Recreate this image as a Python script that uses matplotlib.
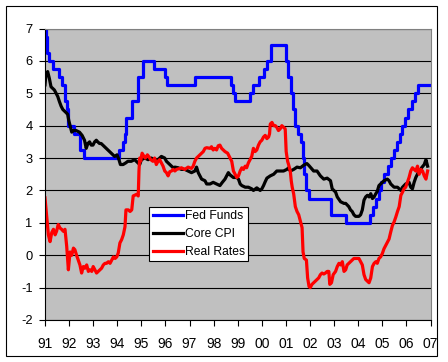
import matplotlib
matplotlib.use("Agg")
import matplotlib.pyplot as plt
from matplotlib.patches import Rectangle

plt.rcParams['font.family'] = ['Liberation Sans', 'DejaVu Sans']
plt.rcParams['axes.unicode_minus'] = False

# Fed funds target: (year, rate) at each change
fed_years = [1991.00, 1991.03, 1991.09, 1991.18, 1991.33, 1991.60, 1991.70, 1991.83,
             1991.85, 1991.93, 1991.97, 1992.20, 1992.45, 1992.62, 1994.09, 1994.22,
             1994.30, 1994.38, 1994.63, 1994.87, 1995.08, 1995.51, 1995.97, 1996.08,
             1997.23, 1998.74, 1998.79, 1998.88, 1999.49, 1999.65, 1999.87, 2000.09,
             2000.22, 2000.37, 2001.01, 2001.08, 2001.21, 2001.29, 2001.37, 2001.49,
             2001.64, 2001.71, 2001.75, 2001.85, 2001.94, 2002.85, 2003.48, 2004.50,
             2004.61, 2004.72, 2004.86, 2004.95, 2005.09, 2005.22, 2005.34, 2005.50,
             2005.60, 2005.72, 2005.83, 2005.95, 2006.08, 2006.24, 2006.36, 2006.49,
             2006.98]
fed_rates = [7.0, 6.75, 6.25, 6.0, 5.75, 5.5, 5.25, 5.0,
             4.75, 4.5, 4.0, 3.75, 3.25, 3.0, 3.25, 3.5,
             3.75, 4.25, 4.75, 5.5, 6.0, 5.75, 5.5, 5.25,
             5.5, 5.25, 5.0, 4.75, 5.0, 5.25, 5.5, 5.75,
             6.0, 6.5, 6.0, 5.5, 5.0, 4.5, 4.0, 3.75,
             3.5, 3.0, 2.5, 2.0, 1.75, 1.25, 1.0, 1.25,
             1.5, 1.75, 2.0, 2.25, 2.5, 2.75, 3.0, 3.25,
             3.5, 3.75, 4.0, 4.25, 4.5, 4.75, 5.0, 5.25,
             5.25]

core_years = [1991.00, 1991.04, 1991.11, 1991.18, 1991.25, 1991.32, 1991.39, 1991.46,
              1991.53, 1991.60, 1991.67, 1991.74, 1991.81, 1991.88, 1991.94, 1991.99,
              1992.04, 1992.11, 1992.19, 1992.29, 1992.43, 1992.54, 1992.64, 1992.71,
              1992.78, 1992.85, 1992.92, 1992.99, 1993.06, 1993.13, 1993.19, 1993.26,
              1993.33, 1993.47, 1993.54, 1993.61, 1993.68, 1993.75, 1993.89, 1993.99,
              1994.07, 1994.13, 1994.24, 1994.35, 1994.44, 1994.58, 1994.72, 1994.93,
              1995.00, 1995.14, 1995.28, 1995.41, 1995.55, 1995.69, 1995.83, 1995.97,
              1996.04, 1996.11, 1996.25, 1996.32, 1996.39, 1996.53, 1996.66, 1996.80,
              1996.94, 1997.08, 1997.22, 1997.29, 1997.36, 1997.43, 1997.50, 1997.64,
              1997.71, 1997.85, 1997.98, 1998.12, 1998.26, 1998.36, 1998.47, 1998.61,
              1998.68, 1998.82, 1998.96, 1999.03, 1999.10, 1999.17, 1999.31, 1999.44,
              1999.58, 1999.65, 1999.79, 1999.93, 2000.00, 2000.07, 2000.14, 2000.21,
              2000.35, 2000.49, 2000.62, 2000.76, 2000.90, 2001.04, 2001.11, 2001.18,
              2001.32, 2001.46, 2001.60, 2001.74, 2001.87, 2001.94, 2002.01, 2002.15,
              2002.29, 2002.43, 2002.57, 2002.71, 2002.85, 2002.92, 2003.06, 2003.13,
              2003.27, 2003.41, 2003.48, 2003.61, 2003.68, 2003.75, 2003.82, 2003.89,
              2004.03, 2004.10, 2004.17, 2004.24, 2004.31, 2004.38, 2004.45, 2004.52,
              2004.59, 2004.66, 2004.73, 2004.79, 2004.86, 2004.93, 2005.07, 2005.21,
              2005.28, 2005.35, 2005.49, 2005.63, 2005.70, 2005.77, 2005.84, 2005.97,
              2006.11, 2006.18, 2006.25, 2006.32, 2006.39, 2006.49, 2006.57, 2006.63,
              2006.74, 2006.81, 2006.88]
core_cpi = [5.26, 5.6, 5.67, 5.46, 5.2, 5.15, 5.1, 5.0,
            4.9, 4.74, 4.6, 4.5, 4.45, 4.4, 4.35, 4.15,
            4.0, 3.8, 3.85, 3.85, 3.8, 3.7, 3.55, 3.3,
            3.45, 3.5, 3.4, 3.4, 3.5, 3.55, 3.5, 3.45,
            3.45, 3.35, 3.3, 3.25, 3.2, 3.15, 3.05, 3.1,
            2.95, 2.8, 2.8, 2.85, 2.9, 2.9, 2.95, 2.8,
            2.95, 3.0, 2.95, 3.0, 2.95, 2.95, 3.05, 3.0,
            2.9, 2.85, 2.75, 2.7, 2.72, 2.7, 2.65, 2.65,
            2.6, 2.55, 2.6, 2.72, 2.55, 2.45, 2.35, 2.3,
            2.2, 2.2, 2.25, 2.2, 2.15, 2.25, 2.35, 2.55,
            2.48, 2.4, 2.4, 2.35, 2.2, 2.15, 2.1, 2.1,
            2.05, 2.0, 2.08, 2.0, 2.05, 2.15, 2.27, 2.38,
            2.45, 2.5, 2.6, 2.6, 2.6, 2.65, 2.7, 2.6,
            2.65, 2.72, 2.7, 2.78, 2.83, 2.78, 2.72, 2.6,
            2.6, 2.45, 2.35, 2.38, 2.3, 2.05, 1.95, 1.8,
            1.65, 1.6, 1.6, 1.5, 1.4, 1.35, 1.25, 1.2,
            1.2, 1.25, 1.4, 1.7, 1.8, 1.85, 1.8, 1.9,
            1.75, 1.8, 1.9, 1.97, 2.15, 2.2, 2.3, 2.35,
            2.3, 2.2, 2.1, 2.1, 2.05, 2.0, 2.1, 2.2,
            2.25, 2.1, 2.05, 2.25, 2.4, 2.55, 2.6, 2.7,
            2.8, 2.95, 2.75]

real_years = [1991.00, 1991.07, 1991.14, 1991.21, 1991.28, 1991.35, 1991.42, 1991.48,
              1991.55, 1991.62, 1991.69, 1991.76, 1991.83, 1991.90, 1991.97, 1992.04,
              1992.11, 1992.18, 1992.24, 1992.31, 1992.38, 1992.45, 1992.52, 1992.59,
              1992.66, 1992.73, 1992.80, 1992.87, 1992.94, 1993.00, 1993.07, 1993.14,
              1993.21, 1993.28, 1993.35, 1993.42, 1993.49, 1993.56, 1993.63, 1993.70,
              1993.77, 1993.84, 1993.91, 1993.98, 1994.04, 1994.11, 1994.18, 1994.25,
              1994.32, 1994.36, 1994.46, 1994.53, 1994.60, 1994.66, 1994.80, 1994.87,
              1994.90, 1994.93, 1994.97, 1995.03, 1995.11, 1995.16, 1995.25, 1995.30,
              1995.39, 1995.48, 1995.55, 1995.62, 1995.69, 1995.76, 1995.83, 1995.90,
              1995.97, 1996.04, 1996.11, 1996.18, 1996.25, 1996.32, 1996.39, 1996.46,
              1996.60, 1996.66, 1996.80, 1996.94, 1997.08, 1997.15, 1997.22, 1997.29,
              1997.36, 1997.43, 1997.50, 1997.57, 1997.64, 1997.71, 1997.85, 1997.91,
              1997.98, 1998.05, 1998.12, 1998.19, 1998.26, 1998.33, 1998.40, 1998.47,
              1998.58, 1998.68, 1998.75, 1998.82, 1998.89, 1998.96, 1999.03, 1999.10,
              1999.17, 1999.24, 1999.31, 1999.37, 1999.44, 1999.51, 1999.58, 1999.65,
              1999.72, 1999.79, 1999.86, 1999.93, 2000.00, 2000.07, 2000.14, 2000.21,
              2000.28, 2000.32, 2000.35, 2000.42, 2000.49, 2000.56, 2000.62, 2000.69,
              2000.76, 2000.83, 2000.90, 2000.97, 2001.01, 2001.07, 2001.11, 2001.18,
              2001.22, 2001.26, 2001.32, 2001.39, 2001.46, 2001.53, 2001.60, 2001.67,
              2001.71, 2001.76, 2001.85, 2001.90, 2001.96, 2002.01, 2002.08, 2002.15,
              2002.22, 2002.29, 2002.36, 2002.43, 2002.50, 2002.57, 2002.64, 2002.71,
              2002.78, 2002.82, 2002.89, 2002.96, 2003.06, 2003.13, 2003.20, 2003.27,
              2003.34, 2003.41, 2003.48, 2003.54, 2003.61, 2003.68, 2003.75, 2003.82,
              2004.03, 2004.10, 2004.17, 2004.24, 2004.31, 2004.38, 2004.45, 2004.52,
              2004.59, 2004.66, 2004.73, 2004.79, 2004.86, 2004.93, 2005.00, 2005.07,
              2005.14, 2005.21, 2005.28, 2005.35, 2005.42, 2005.49, 2005.56, 2005.63,
              2005.70, 2005.77, 2005.84, 2005.90, 2005.97, 2006.04, 2006.11, 2006.18,
              2006.25, 2006.32, 2006.39, 2006.46, 2006.53, 2006.60, 2006.67, 2006.74,
              2006.81, 2006.88]
real_rates = [1.77, 1.2, 0.63, 0.42, 0.7, 0.8, 0.63, 0.74,
              0.95, 0.84, 0.8, 0.74, 0.8, 0.28, -0.45, 0.1,
              0.0, 0.22, 0.17, 0.0, -0.15, -0.3, -0.55, -0.35,
              -0.4, -0.3, -0.5, -0.45, -0.5, -0.35, -0.45, -0.55,
              -0.5, -0.45, -0.4, -0.3, -0.25, -0.25, -0.2, -0.25,
              -0.15, -0.05, -0.1, -0.05, 0.07, 0.38, 0.48, 0.63,
              0.88, 1.4, 1.4, 1.35, 1.4, 1.83, 1.88, 1.83,
              2.6, 3.0, 2.9, 3.15, 3.05, 3.0, 3.1, 3.05,
              2.95, 2.9, 3.0, 2.8, 2.9, 2.95, 2.85, 2.75,
              2.6, 2.55, 2.45, 2.58, 2.6, 2.65, 2.6, 2.65,
              2.68, 2.7, 2.65, 2.72, 2.68, 2.75, 2.9, 3.0,
              3.05, 3.1, 3.15, 3.2, 3.3, 3.32, 3.3, 3.35,
              3.25, 3.3, 3.25, 3.38, 3.4, 3.3, 3.25, 3.2,
              3.15, 3.0, 2.9, 2.6, 2.5, 2.4, 2.45, 2.6,
              2.7, 2.65, 2.75, 2.7, 2.85, 2.95, 3.05, 3.3,
              3.2, 3.25, 3.4, 3.5, 3.55, 3.65, 3.7, 3.6,
              3.65, 3.75, 4.05, 4.1, 4.0, 4.0, 3.95, 3.85,
              3.9, 4.0, 3.95, 3.9, 3.2, 2.9, 2.8, 2.6,
              2.3, 2.1, 1.9, 1.5, 1.35, 1.25, 1.05, 0.85,
              0.1, -0.1, -0.15, -0.7, -0.97, -1.0, -0.9, -0.85,
              -0.8, -0.75, -0.7, -0.6, -0.55, -0.58, -0.55, -0.5,
              -0.5, -0.9, -0.85, -0.6, -0.5, -0.35, -0.25, -0.3,
              -0.2, -0.5, -0.45, -0.3, -0.25, -0.2, -0.15, -0.1,
              -0.1, -0.2, -0.3, -0.6, -0.75, -0.8, -0.85, -0.7,
              -0.35, -0.25, -0.2, -0.25, -0.1, -0.05, 0.05, 0.2,
              0.3, 0.4, 0.5, 0.72, 0.92, 1.03, 1.18, 1.35,
              1.5, 1.85, 1.95, 2.05, 2.1, 2.25, 2.4, 2.6,
              2.7, 2.65, 2.6, 2.75, 2.5, 2.65, 2.6, 2.45,
              2.35, 2.6]

year_ticks = list(range(1991, 2008))
year_labels = ['91', '92', '93', '94', '95', '96', '97', '98', '99',
               '00', '01', '02', '03', '04', '05', '06', '07']

fig = plt.figure(figsize=(4.48, 3.62), dpi=100)
fig.patches.append(Rectangle((5.5 / 448, 1 - 355.5 / 362), 431.5 / 448, 350 / 362,
                             transform=fig.transFigure, fill=False,
                             edgecolor='black', linewidth=0.8))
ax = fig.add_axes([45 / 448, 1 - 320 / 362, 385.5 / 448, 291.5 / 362])
ax.set_facecolor('#C0C0C0')

ax.plot(fed_years, fed_rates, color='#0000FF', linewidth=2.3, drawstyle='steps-post',
        label='Fed Funds')
ax.plot(core_years, core_cpi, color='black', linewidth=2.3, label='Core CPI')
ax.plot(real_years, real_rates, color='#FF0000', linewidth=2.3, label='Real Rates')

ax.set_xlim(1991, 2007)
ax.set_ylim(-2, 7)
ax.set_yticks(range(-2, 8))
ax.set_xticks(year_ticks)
ax.set_xticklabels(year_labels)
ax.grid(axis='y', color='black', linewidth=0.8)
ax.set_axisbelow(True)
ax.tick_params(axis='both', direction='out', length=4, width=0.8)
ax.tick_params(axis='x', pad=8.5, labelsize=10)
ax.tick_params(axis='y', pad=5, labelsize=9.3)
for side in ['top', 'right']:
    ax.spines[side].set_color('#808080')
for side in ['left', 'bottom']:
    ax.spines[side].set_color('black')
    ax.spines[side].set_linewidth(0.8)

leg = ax.legend(loc='upper left', bbox_to_anchor=(0.2706, 0.389), borderaxespad=0,
                fontsize=8.7, handlelength=2.5, handletextpad=0.15, labelspacing=0.5,
                borderpad=0.27, fancybox=False, framealpha=1, edgecolor='black')
leg.get_frame().set_linewidth(0.8)

fig.savefig('out.png', dpi=100)
